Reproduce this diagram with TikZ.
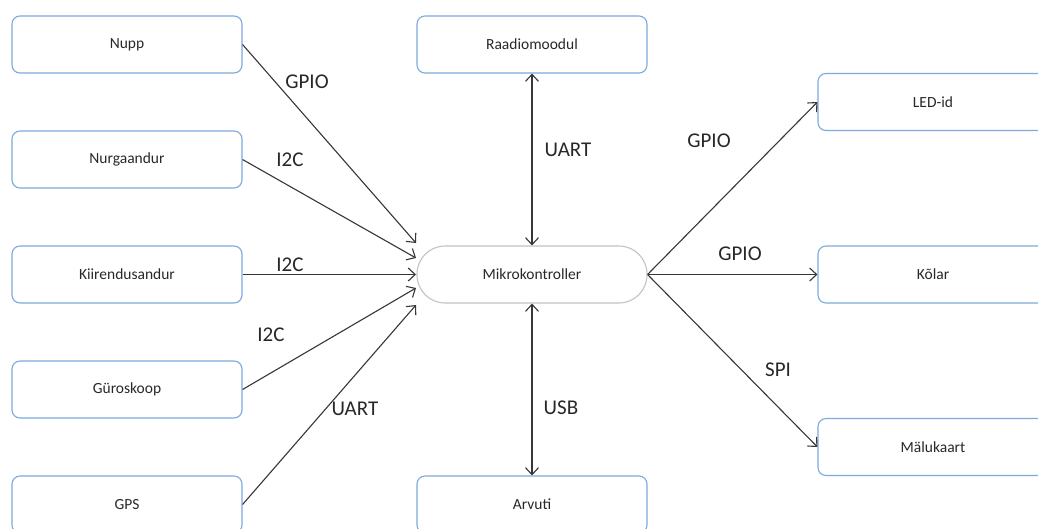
\documentclass[tikz,border=0pt]{standalone}
\usepackage{fontspec}
\setmainfont{Carlito}
\usetikzlibrary{arrows.meta,positioning}
\definecolor{BoxBlue}{RGB}{122,170,222}
\definecolor{McuGray}{RGB}{195,195,195}
\definecolor{LineGray}{RGB}{55,55,55}
\definecolor{TextGray}{RGB}{40,40,40}

\begin{document}
\begin{tikzpicture}[x=1pt,y=-1pt,>={Straight Barb[length=7pt,width=13pt]},every node/.style={text=TextGray,font=\fontsize{15.5}{18}\selectfont}]
\tikzset{block/.style={draw=BoxBlue,line width=1.1pt,rounded corners=8pt,fill=white,minimum width=230pt,minimum height=57pt,align=center},mcu/.style={draw=McuGray,line width=1.1pt,rounded corners=28pt,fill=white,minimum width=230pt,minimum height=57pt,align=center},link/.style={draw=LineGray,line width=1.1pt},bus/.style={font=\fontsize{21}{24}\selectfont}}
\clip (0,0) rectangle (1038,528);
\fill[white] (0,0) rectangle (1038,528);
% sensors on the left
\node[block] (nupp) at (127,44.5) {Nupp};
\node[block,below=56.9pt of nupp] (nurk) {Nurgaandur};
\node[block,below=56.9pt of nurk] (kiir) {Kiirendusandur};
\node[block,below=56.9pt of kiir] (guro) {Güroskoop};
\node[block,below=56.9pt of guro] (gps) {GPS};
% controller column
\node[mcu] (mcu) at (532,274.5) {Mikrokontroller};
\node[block,above=171.9pt of mcu] (raadio) {Raadiomoodul};
\node[block,below=171.9pt of mcu] (arvuti) {Arvuti};
% outputs on the right
\node[block,right=169.9pt of mcu] (kolar) {Kõlar};
\node[block,above=114.4pt of kolar] (led) {LED-id};
\node[block,below=114.4pt of kolar] (malu) {Mälukaart};
\coordinate (in1) at (416,243);
\coordinate (in2) at (416,258);
\coordinate (in3) at (416,274.5);
\coordinate (in4) at (416,288);
\coordinate (in5) at (416,305);
\draw[link,->] (nupp.east) -- (in1);
\draw[link,->] (nurk.east) -- (in2);
\draw[link,->] (kiir.east) -- (in3);
\draw[link,->] (guro.east) -- (in4);
\draw[link,->] (gps.east) -- (in5);
\draw[link,<->] (raadio) -- (mcu);
\draw[link,<->] (mcu) -- (arvuti);
\draw[link,->] (mcu.east) -- (led.west);
\draw[link,->] (mcu.east) -- (kolar);
\draw[link,->] (mcu.east) -- (malu.west);
% bus labels
\node[bus] (lnupp) at (307,82) {GPIO};
\node[bus] (lnurk) at (290,160) {I2C};
\node[bus] (lkiir) at (290,265) {I2C};
\node[bus] (lguro) at (271,335) {I2C};
\node[bus] (lgps) at (355,409) {UART};
\node[bus] (lraadio) at (568,150) {UART};
\node[bus] (larvuti) at (561,408) {USB};
\node[bus] (lled) at (709,141) {GPIO};
\node[bus] (lkolar) at (740,254) {GPIO};
\node[bus] (lmalu) at (778,370) {SPI};
\end{tikzpicture}
\end{document}
